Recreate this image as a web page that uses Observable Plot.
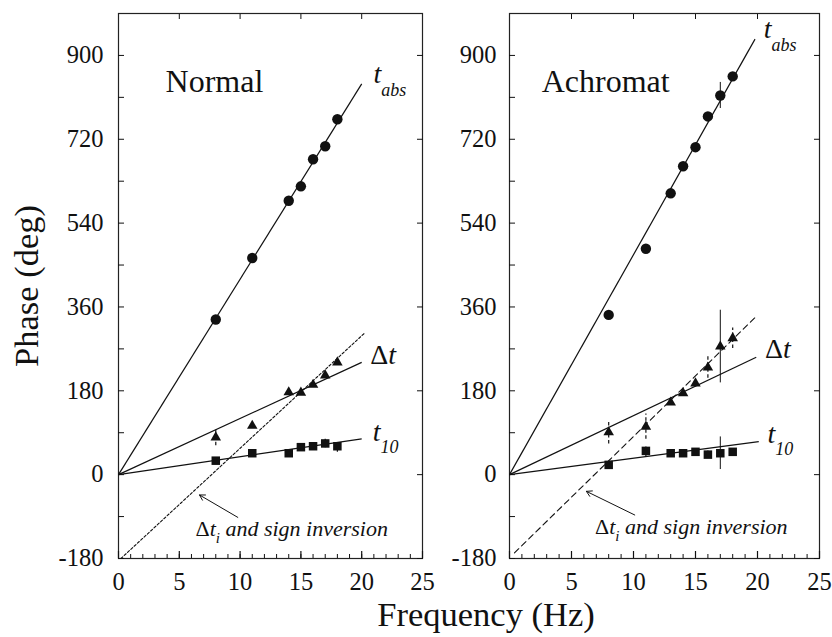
<!DOCTYPE html>
<html><head><meta charset="utf-8">
<script src="https://cdn.jsdelivr.net/npm/d3@7"></script>
<script src="https://cdn.jsdelivr.net/npm/@observablehq/plot@0.6"></script>
<style>
html,body{margin:0;padding:0;background:#fff;}
#wrap{position:relative;width:832px;height:637px;overflow:hidden;background:#fff;font-family:"Liberation Serif",serif;color:#111;}
#left,#right,#overlay{position:absolute;top:0;}
#left{left:0;} #right{left:440px;} #overlay{left:0;pointer-events:none;}
</style></head>
<body><div id="wrap"><div id="left"></div><div id="right"></div>
<svg id="overlay" width="832" height="637" fill="#111" style='font-family:"Liberation Serif", serif'>
  <text transform="translate(38,286) rotate(-90)" text-anchor="middle" font-size="34.5">Phase (deg)</text>
  <text x="486" y="626" text-anchor="middle" font-size="34.5">Frequency (Hz)</text>
</svg></div>
<script>
// ---------- data ----------
const panelTitles = ["Normal", "Achromat"];

const freqNormal = [8, 11, 14, 15, 16, 17, 18];
const tabsNormal = [333, 465, 588, 619, 677, 705, 763];
const dtNormal   = [80, 105, 177, 176, 193, 213, 241];
const t10Normal  = [30, 46, 46, 59, 61, 67, 61];
const dtNormalErr  = [18, 0, 0, 0, 0, 0, 0];
const t10NormalErr = [0, 0, 0, 0, 0, 9, 13];

const freqAchro = [8, 11, 13, 14, 15, 16, 17, 18];
const tabsAchro = [343, 485, 604, 662, 703, 769, 814, 855];
const dtAchro   = [91, 103, 155, 175, 196, 230, 275, 293];
const t10Achro  = [21, 51, 46, 46, 49, 43, 46, 49];
const tabsAchroErr = [0, 0, 0, 0, 0, 0, 28, 0];
const dtAchroErr   = [25, 27, 0, 0, 8, 23, 78, 22];
const t10AchroErr  = [0, 12, 0, 0, 0, 8, 35, 0];
const solidErrFreqAchro = 17;

// fitted lines (from origin) : end points
const fitSeries = ["tabs", "dt", "t10"];
const fitEndXNormal = [20.0, 20.0, 20.0];
const fitEndYNormal = [839, 241, 77];
const fitEndXAchro  = [19.8, 19.9, 20.1];
const fitEndYAchro  = [935, 252, 71];

// "Δt_i and sign inversion" prediction line end points
const invXNormal = [0.2, 20.2];
const invYNormal = [-180, 303];
const invXAchro  = [0.4, 19.95];
const invYAchro  = [-168, 341];

// annotation arrow (tail -> tip)
const arrowNormal = [9.81, -91.7, 6.66, -43.6];
const arrowAchro  = [10.1, -86.6, 6.2, -35.8];
const annotText = ["Δ", "t", "i", " and sign inversion"];
const annotPosNormal = [6.33, -131];
const annotPosAchro  = [6.9, -127];

// line labels
const labelMain = ["t", "Δt", "t"];
const labelSub  = ["abs", "", "10"];
const labelXNormal = [20.97, 20.7, 20.9];
const labelYNormal = [840, 238, 73];
const labelXAchro  = [20.5, 20.6, 20.8];
const labelYAchro  = [938, 251, 67];
const titlePosNormal = [3.87, 822];
const titlePosAchro  = [2.6, 822];

// axes
const xDomain = [0, 25];
const yDomain = [-180, 990];
const xMajorTicks = [0, 5, 10, 15, 20, 25];
const xMinorTicks = d3.range(0, 26, 1);
const xTopTicks = [5, 10, 15, 20];
const yLabelTicks = [-180, 0, 180, 360, 540, 720, 900];
const yMinorTicks = [-180, -90, 0, 90, 180, 270, 360, 450, 540, 630, 720, 810, 900];

const FONT = '"Liberation Serif", serif';
const INK = "#111";

function rows(freq, vals, errs) {
  return freq.map((f, i) => ({f, v: vals[i], e: errs ? errs[i] : 0}));
}

function panel(cfg) {
  const tabs = rows(cfg.freq, cfg.tabs, cfg.tabsErr);
  const dt = rows(cfg.freq, cfg.dt, cfg.dtErr);
  const t10 = rows(cfg.freq, cfg.t10, cfg.t10Err);
  const errDashed = [];
  const errSolid = [];
  for (const [set, kind] of [[tabs, "tabs"], [dt, "dt"], [t10, "t10"]]) {
    for (const d of set) {
      if (!d.e) continue;
      if (d.f === cfg.solidFreq || kind === "tabs") errSolid.push(d); else errDashed.push(d);
    }
  }
  const fits = fitSeries.map((s, i) => ({s, x2: cfg.fitX[i], y2: cfg.fitY[i]}));
  const inv = cfg.invX.map((x, i) => ({x, y: cfg.invY[i]}));
  const labels = labelMain.map((m, i) => ({m, sub: labelSub[i], x: cfg.labX[i], y: cfg.labY[i]}));
  const svg = Plot.plot({
    width: cfg.width, height: 637,
    marginLeft: cfg.ml, marginRight: cfg.mr, marginTop: 13, marginBottom: 79,
    x: {domain: xDomain},
    y: {domain: yDomain},
    style: {fontFamily: FONT, color: INK, background: "transparent", overflow: "visible"},
    marks: [
      Plot.frame({stroke: "#222", strokeWidth: 1.2}),
      Plot.axisX(xMinorTicks, {anchor: "bottom", tickSize: -4, tickFormat: () => "", label: null, strokeWidth: 1}),
      Plot.axisX(xMajorTicks, {anchor: "bottom", tickSize: -7, tickFormat: () => "", label: null, strokeWidth: 1.2}),
      Plot.axisX(xMajorTicks, {anchor: "bottom", tickSize: 0, tickPadding: 14, tickFormat: d => String(d), fontSize: 24.5, label: null}),
      Plot.axisX(xTopTicks, {anchor: "top", tickSize: -5, tickFormat: () => "", label: null}),
      Plot.axisY(yMinorTicks, {anchor: "left", tickSize: -6, tickFormat: () => "", label: null}),
      Plot.axisY(yLabelTicks, {anchor: "left", tickSize: 0, tickPadding: cfg.yPad, tickFormat: d => String(d), fontSize: 24.5, label: null}),
      Plot.axisY(yLabelTicks, {anchor: "right", tickSize: -6, tickFormat: () => "", label: null}),
      // prediction line
      Plot.line(inv, {x: "x", y: "y", stroke: INK, strokeWidth: 1.1, strokeDasharray: cfg.invDash}),
      // fitted lines
      Plot.link(fits, {x1: 0, y1: 0, x2: "x2", y2: "y2", stroke: INK, strokeWidth: 1.2,
        strokeDasharray: d => d.s === "t10" ? "9,1.5" : null}),
      // error bars
      Plot.ruleX(errDashed, {x: "f", y1: d => d.v - d.e, y2: d => d.v + d.e, stroke: INK, strokeWidth: 1.2, strokeDasharray: "3.5,2.5"}),
      Plot.ruleX(errSolid, {x: "f", y1: d => d.v - d.e, y2: d => d.v + d.e, stroke: INK, strokeWidth: 1}),
      // points
      Plot.dot(tabs, {x: "f", y: "v", symbol: "circle", r: 5.2, fill: INK, stroke: "none"}),
      Plot.dot(dt, {x: "f", y: "v", symbol: "triangle", r: 3.9, fill: INK, stroke: "none"}),
      Plot.dot(t10, {x: "f", y: "v", symbol: "square", r: 4.8, fill: INK, stroke: "none"}),
      // annotation arrow
      Plot.arrow([cfg.arrow], {x1: d => d[0], y1: d => d[1], x2: d => d[2], y2: d => d[3], stroke: INK, strokeWidth: 1, headLength: 9}),
      // text marks (order matters for post-processing below)
      Plot.text([cfg.annot], {x: d => d[0], y: d => d[1], text: () => annotText.join(""), textAnchor: "start", lineAnchor: "bottom", fontSize: 22, fill: INK}),
      Plot.text(labels, {x: "x", y: "y", text: "m", textAnchor: "start", lineAnchor: "bottom", fontSize: 28, fill: INK}),
      Plot.text([cfg.titlePos], {x: d => d[0], y: d => d[1], text: () => cfg.title, textAnchor: "start", lineAnchor: "bottom", fontSize: 32, fill: INK})
    ]
  });
  // rich text: italics and subscripts
  const groups = d3.select(svg).selectAll('g[aria-label="text"]').nodes();
  d3.select(groups[1]).selectAll("text").each(function(_, i) {
    const L = labels[i];
    const t = d3.select(this).text(null);
    if (L.m.startsWith("Δ")) t.append("tspan").attr("font-style", "normal").text("Δ");
    t.append("tspan").attr("font-style", "italic").text("t");
    if (L.sub) t.append("tspan").attr("font-style", "italic").attr("font-size", 18).attr("dy", L.sub === "abs" ? 13 : 12).text(L.sub);
  });
  d3.select(groups[0]).selectAll("text").each(function() {
    const t = d3.select(this).text(null);
    t.append("tspan").attr("font-style", "normal").text(annotText[0]);
    t.append("tspan").attr("font-style", "italic").text(annotText[1]);
    t.append("tspan").attr("font-style", "italic").attr("font-size", 15).attr("dy", 7).text(annotText[2]);
    t.append("tspan").attr("font-style", "italic").attr("dy", -7).text(annotText[3]);
  });
  return svg;
}

document.getElementById("left").appendChild(panel({
  width: 440, ml: 118, mr: 18, yPad: 15,
  title: panelTitles[0], titlePos: titlePosNormal,
  freq: freqNormal, tabs: tabsNormal, dt: dtNormal, t10: t10Normal,
  tabsErr: null, dtErr: dtNormalErr, t10Err: t10NormalErr, solidFreq: -1,
  fitX: fitEndXNormal, fitY: fitEndYNormal,
  invX: invXNormal, invY: invYNormal, invDash: "2.5,2",
  arrow: arrowNormal, annot: annotPosNormal,
  labX: labelXNormal, labY: labelYNormal
}));
document.getElementById("right").appendChild(panel({
  width: 392, ml: 69, mr: 13, yPad: 13,
  title: panelTitles[1], titlePos: titlePosAchro,
  freq: freqAchro, tabs: tabsAchro, dt: dtAchro, t10: t10Achro,
  tabsErr: tabsAchroErr, dtErr: dtAchroErr, t10Err: t10AchroErr, solidFreq: solidErrFreqAchro,
  fitX: fitEndXAchro, fitY: fitEndYAchro,
  invX: invXAchro, invY: invYAchro, invDash: "6,4",
  arrow: arrowAchro, annot: annotPosAchro,
  labX: labelXAchro, labY: labelYAchro
}));
</script>
</body></html>
